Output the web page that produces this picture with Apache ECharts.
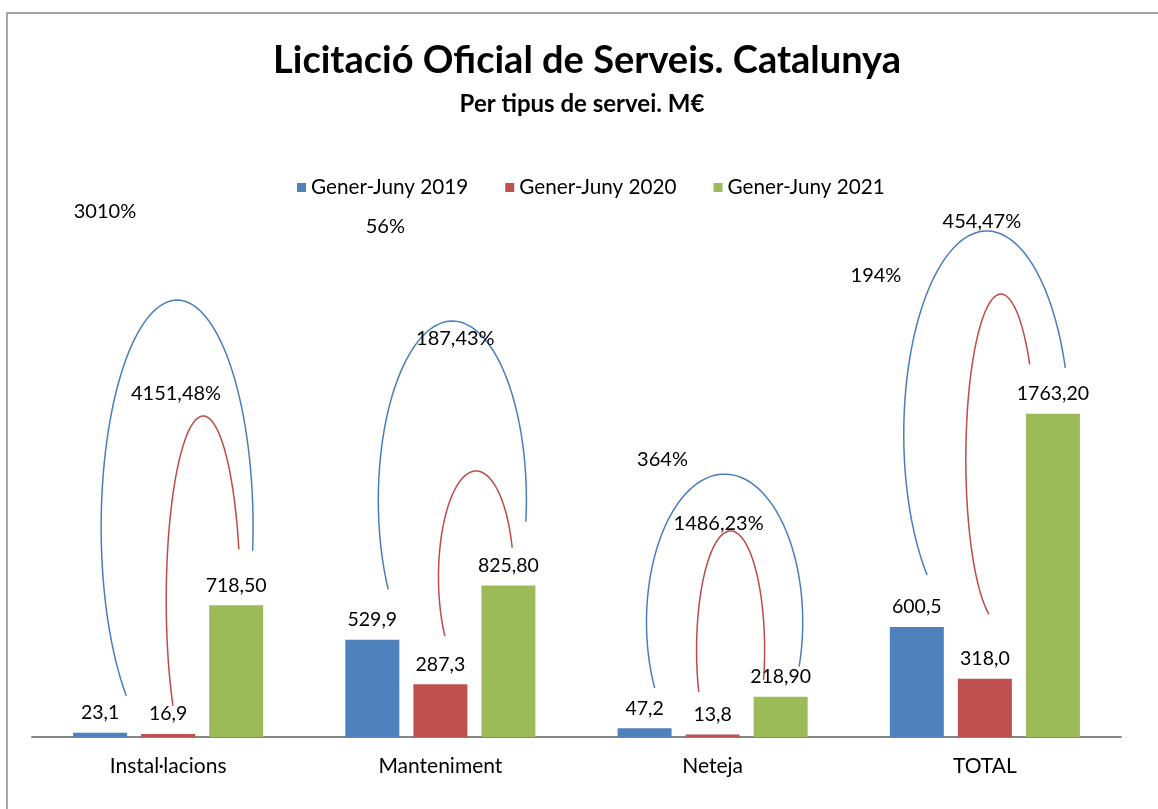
<!DOCTYPE html>
<html>
<head>
<meta charset="utf-8">
<script src="https://cdn.jsdelivr.net/npm/echarts@6/dist/echarts.min.js"></script>
<style>html,body{margin:0;padding:0;background:#fff;}#c{width:1158px;height:809px;}</style>
</head>
<body>
<div id="c"></div>
<script>
// ---- data ----
var categories = ['Instal·lacions', 'Manteniment', 'Neteja', 'TOTAL'];
var seriesNames = ['Gener-Juny 2019', 'Gener-Juny 2020', 'Gener-Juny 2021'];
var values2019 = [23.1, 529.9, 47.2, 600.5];
var values2020 = [16.9, 287.3, 13.8, 318.0];
var values2021 = [718.50, 825.80, 218.90, 1763.20];
var decimals = [1, 1, 2];
var colors = ['#4F81BD', '#C0504D', '#9BBB59'];

// percentage annotations: [category, value-level, offset in category widths, text]
var noteCats = [0, 0, 1, 1, 2, 2, 3, 3];
var noteLevels = [2864, 1871, 2787, 2176, 1511, 1162, 2515, 2809];
var noteOffsets = [-0.232, 0.029, -0.202, 0.055, -0.184, 0.022, -0.40, -0.011];
var noteTexts = ['3010%', '4151,48%', '56%', '187,43%', '364%', '1486,23%', '194%', '454,47%'];

// arcs (elliptic): category, centre value, centre offset (cat widths), x-radius (cat widths), y-radius (value), start/end angle (deg), colour
var arcCats   = [0, 0, 1, 1, 2, 2, 3, 3];
var arcCy     = [1145, 747, 1293, 873, 627, 475, 1653, 1516];
var arcDx     = [0.033, 0.129, 0.044, 0.131, 0.044, 0.066, 0.007, 0.059];
var arcRx     = [0.279, 0.136, 0.272, 0.138, 0.287, 0.125, 0.305, 0.129];
var arcRy     = [1238, 1004, 976, 578, 807, 649, 1107, 900];
var arcT1     = [-6, 16, -7, 16, -17.5, -14.6, 19, 35];
var arcT2     = [228, 215, 210, 214, 206.5, 200.7, 224, 250];
var arcColor  = ['#4A7EBB', '#BE4B48', '#4A7EBB', '#BE4B48', '#4A7EBB', '#BE4B48', '#4A7EBB', '#BE4B48'];

var FONT = 'Lato, "Open Sans", sans-serif';

function fmt(v, d) { return v.toFixed(d).replace('.', ','); }

var chart = echarts.init(document.getElementById('c'), null, {renderer: 'canvas'});

var seriesVals = [values2019, values2020, values2021];
var barSeries = seriesVals.map(function (vals, i) {
  return {
    name: seriesNames[i],
    type: 'bar',
    data: vals,
    barWidth: 54,
    barGap: '26%',
    itemStyle: {color: colors[i]},
    label: {
      show: true, position: 'top', distance: 10,
      fontFamily: FONT, fontSize: 19.5, color: '#000',
      formatter: function (p) { return fmt(p.value, decimals[i]); }
    },
    z: 2
  };
});

var arcData = arcCats.map(function (c, i) { return [c, arcCy[i]]; });
var arcSeries = {
  type: 'custom',
  silent: true,
  clip: false,
  z: 3,
  data: arcData,
  encode: {x: 0, y: 1},
  renderItem: function (params, api) {
    var i = params.dataIndex;
    var center = api.coord([api.value(0), api.value(1)]);
    var band = api.size([1, 0])[0];
    var cx = center[0] + arcDx[i] * band;
    var cy = center[1];
    var rx = arcRx[i] * band;
    var ry = api.size([0, arcRy[i]])[1];
    var pts = [];
    var n = 80;
    for (var k = 0; k <= n; k++) {
      var t = (arcT1[i] + (arcT2[i] - arcT1[i]) * k / n) * Math.PI / 180;
      pts.push([cx + rx * Math.cos(t), cy - ry * Math.sin(t)]);
    }
    return {
      type: 'polyline',
      shape: {points: pts},
      style: {stroke: arcColor[i], lineWidth: 1.5, fill: null}
    };
  }
};

var noteData = noteCats.map(function (c, i) { return [c, noteLevels[i]]; });
var noteSeries = {
  type: 'custom',
  silent: true,
  clip: false,
  z: 4,
  data: noteData,
  encode: {x: 0, y: 1},
  renderItem: function (params, api) {
    var i = params.dataIndex;
    var p = api.coord([api.value(0), api.value(1)]);
    var band = api.size([1, 0])[0];
    return {
      type: 'text',
      x: p[0] + noteOffsets[i] * band,
      y: p[1],
      style: {
        text: noteTexts[i], fill: '#000', fontFamily: FONT, fontSize: 20,
        align: 'center', verticalAlign: 'middle'
      }
    };
  }
};

var option = {
  backgroundColor: '#fff',
  animation: false,
  title: [
    {text: 'Licitació Oficial de Serveis. Catalunya', left: 582, top: 37,
     textAlign: 'center',
     textStyle: {fontFamily: FONT, fontSize: 38, fontWeight: 'bold', color: '#000'}},
    {text: 'Per tipus de servei. M€', left: 577, top: 87,
     textAlign: 'center',
     textStyle: {fontFamily: FONT, fontSize: 24, fontWeight: 'bold', color: '#000'}}
  ],
  legend: {
    data: seriesNames, top: 172, left: 292,
    icon: 'rect', itemWidth: 9, itemHeight: 9, itemGap: 37,
    textStyle: {fontFamily: FONT, fontSize: 20.7, color: '#000'}
  },
  graphic: [{
    type: 'rect', silent: true, z: -1,
    shape: {x: 7, y: 13, width: 1300, height: 900},
    style: {fill: null, stroke: '#A6A6A6', lineWidth: 2}
  }],
  grid: {left: 32, right: 37, top: 187, bottom: 72, containLabel: false},
  xAxis: {
    type: 'category', data: categories,
    axisLine: {show: true, lineStyle: {color: '#868686', width: 2}},
    axisTick: {show: false},
    axisLabel: {fontFamily: FONT, fontSize: 21, color: '#000', margin: 19}
  },
  yAxis: {
    type: 'value', min: 0, max: 3000, show: false,
    splitLine: {show: false}
  },
  series: barSeries.concat([arcSeries, noteSeries])
};
chart.setOption(option);
</script>
</body>
</html>
